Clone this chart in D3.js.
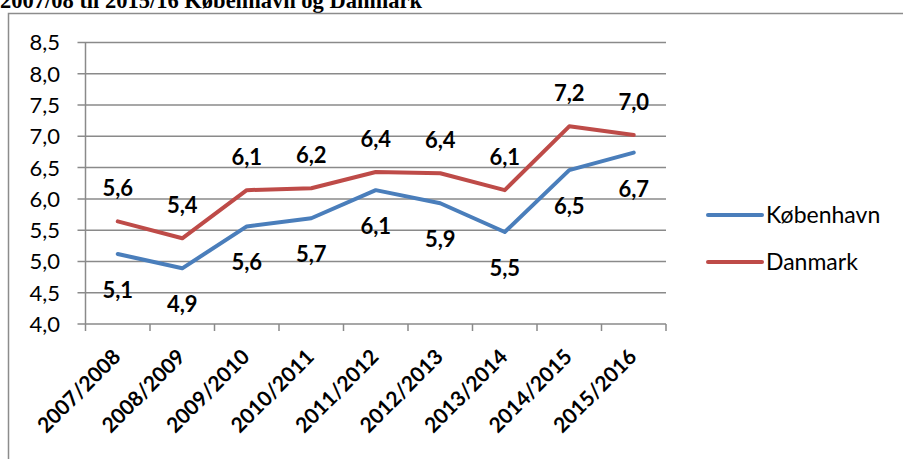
<!DOCTYPE html>
<html><head><meta charset="utf-8">
<script src="https://cdn.jsdelivr.net/npm/d3@7"></script>
<style>body{margin:0;background:#fff}svg{display:block}</style>
</head><body>
<script>
const categories = ["2007/2008","2008/2009","2009/2010","2010/2011","2011/2012","2012/2013","2013/2014","2014/2015","2015/2016"];
const kobenhavn = [5.12,4.89,5.56,5.69,6.14,5.93,5.47,6.46,6.74];
const danmark = [5.64,5.37,6.14,6.17,6.43,6.41,6.14,7.16,7.02];
const yTicks = [4.0,4.5,5.0,5.5,6.0,6.5,7.0,7.5,8.0,8.5];
const seriesNames = ["København","Danmark"];
const title = "2007/08 til 2015/16 København og Danmark";

(function(){
const W=903,H=459;
const svg=d3.select("body").append("svg").attr("width",W).attr("height",H);
const font="Lato, 'Open Sans', sans-serif";

svg.append("text").attr("x",0).attr("y",8).attr("font-family","'Liberation Serif', 'Times New Roman', serif")
  .attr("font-weight","bold").attr("font-size",22.5).text(title);

svg.append("path").attr("d","M8.5,459 L8.5,13.5 L903,13.5").attr("fill","none").attr("stroke","#8c8c8c").attr("stroke-width",1.5);

const pL=85.5,pR=666,pT=42.5,pB=324;
const x=d3.scaleBand().domain(categories).range([pL,pR]);
const y=d3.scaleLinear().domain([4,8.5]).range([pB,pT]);
const grid="#8a8a8a";

svg.append("g").selectAll("line").data(yTicks).join("line")
  .attr("x1",pL-8).attr("x2",pR).attr("y1",d=>y(d)).attr("y2",d=>y(d))
  .attr("stroke",grid).attr("stroke-width",1.5);
svg.append("g").selectAll("text").data(yTicks).join("text")
  .attr("x",60).attr("y",d=>y(d)).attr("dy","0.36em").attr("text-anchor","end")
  .attr("font-family",font).attr("font-size",22).attr("fill","#000")
  .text(d=>d3.format(".1f")(d).replace(".",","));
svg.append("line").attr("x1",pL).attr("x2",pL).attr("y1",pT).attr("y2",pB).attr("stroke",grid).attr("stroke-width",1.5);
const xt=categories.map(c=>x(c)).concat([pR]);
svg.append("g").selectAll("line").data(xt).join("line")
  .attr("x1",d=>d).attr("x2",d=>d).attr("y1",pB).attr("y2",pB+7).attr("stroke",grid).attr("stroke-width",1.5);
svg.append("g").selectAll("text").data(categories).join("text")
  .attr("transform",d=>`translate(${x(d)+x.bandwidth()/2-1},${pB+29}) rotate(-45)`)
  .attr("text-anchor","end").attr("dy","0.35em")
  .attr("font-family",font).attr("font-weight","bold").attr("font-size",21).text(d=>d);

const line=d3.line().x((d,i)=>x(categories[i])+x.bandwidth()/2).y(d=>y(d));
const colors=["#4a7ebb","#be4b48"];
const data=[kobenhavn,danmark];
data.forEach((s,k)=>{
  svg.append("path").attr("d",line(s)).attr("fill","none").attr("stroke",colors[k]).attr("stroke-width",4).attr("stroke-linejoin","round").attr("stroke-linecap","round");
});
data.forEach((s,k)=>{
  svg.append("g").selectAll("text").data(s).join("text")
    .attr("x",(d,i)=>x(categories[i])+x.bandwidth()/2).attr("y",d=>y(d)+(k===0?36:-33)).attr("dy","0.36em")
    .attr("text-anchor","middle").attr("font-family",font).attr("font-weight","bold").attr("font-size",22)
    .text(d=>d.toFixed(1).replace(".",","));
});
seriesNames.forEach((n,k)=>{
  const ly=215+k*47;
  svg.append("line").attr("x1",708).attr("x2",762).attr("y1",ly).attr("y2",ly).attr("stroke",colors[k]).attr("stroke-width",4).attr("stroke-linecap","round");
  svg.append("text").attr("x",766).attr("y",ly).attr("dy","0.36em").attr("font-family",font).attr("font-size",23).text(n);
});
})();
</script>
</body></html>
